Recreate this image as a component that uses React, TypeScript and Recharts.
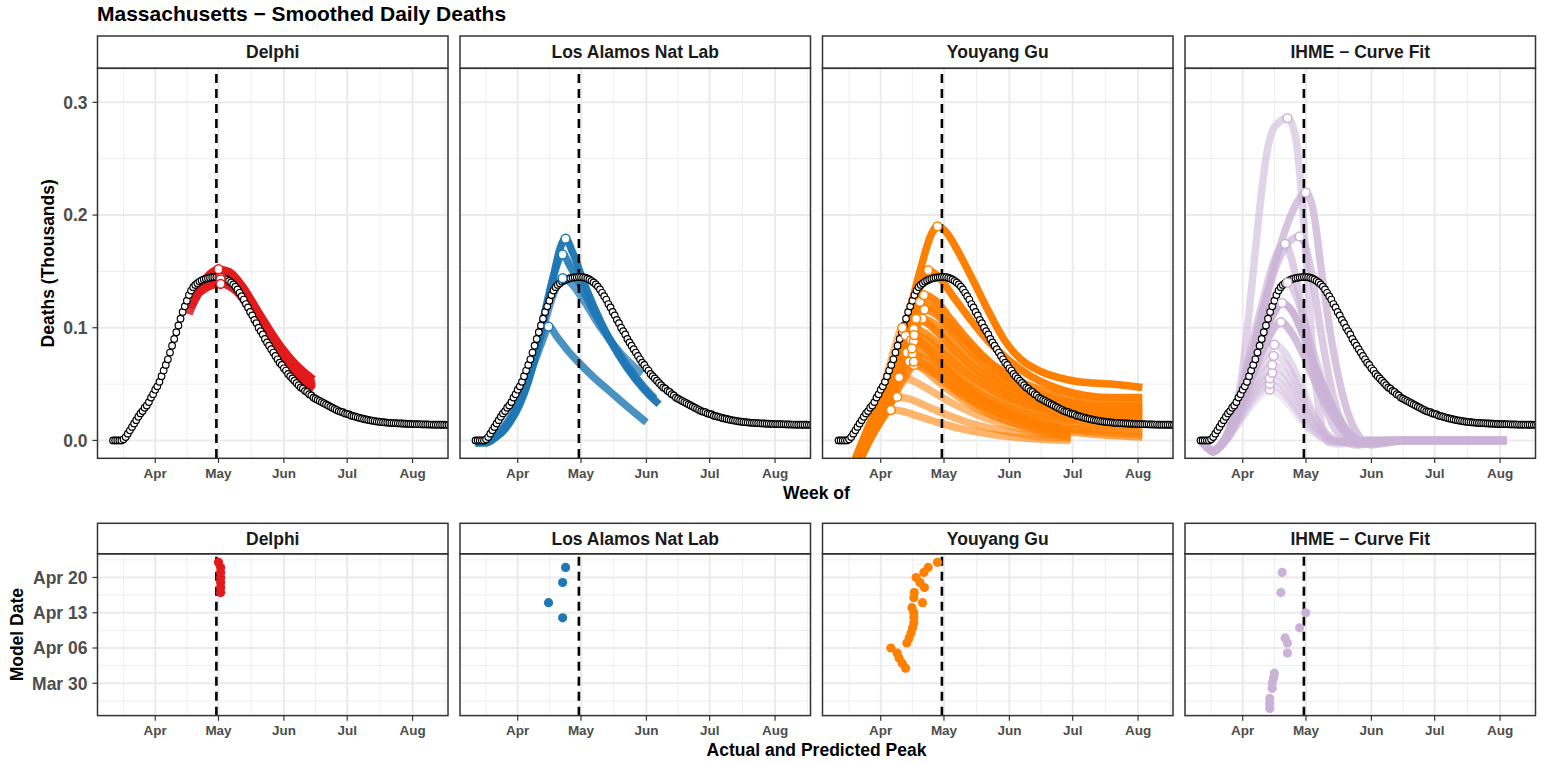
import React from 'react';
import { ComposedChart, Line, Scatter, XAxis, YAxis, CartesianGrid, ReferenceLine } from 'recharts';

// Day numbers are counted from 1 March 2020 (= day 0).
const monthTicks = [31, 61, 92, 122, 153];
const monthLabels = ['Apr', 'May', 'Jun', 'Jul', 'Aug'];
const monthMinorTicks = [16, 46, 76.5, 107, 137.5, 168.5];
const deathTicks = [0, 0.1, 0.2, 0.3];
const deathMinorTicks = [0.05, 0.15, 0.25];
const modelTicks = [29, 36, 43, 50];
const modelLabels = ['Mar 30', 'Apr 06', 'Apr 13', 'Apr 20'];
const modelMinorTicks = [25.5, 32.5, 39.5, 46.5, 53.5];
const actualPeakDay = 60;

// Observed smoothed daily deaths (thousands), one value per day starting 12 March (day 11)
const observedStartDay = 11;
const observedDeaths = [
  0, 0, 0, 0, 0, 0.001, 0.003, 0.006, 0.009, 0.012,
  0.015, 0.018, 0.021, 0.024, 0.026, 0.029, 0.031, 0.034, 0.038, 0.041,
  0.045, 0.048, 0.052, 0.057, 0.062, 0.067, 0.072, 0.078, 0.084, 0.090,
  0.096, 0.102, 0.108, 0.114, 0.119, 0.124, 0.129, 0.133, 0.136, 0.138,
  0.1395, 0.141, 0.142, 0.1428, 0.1435, 0.144, 0.1444, 0.1447, 0.1449, 0.145,
  0.145, 0.1448, 0.1444, 0.1437, 0.1428, 0.1416, 0.1402, 0.1385, 0.1365, 0.134,
  0.131, 0.128, 0.125, 0.121, 0.118, 0.114, 0.111, 0.107, 0.104, 0.100,
  0.097, 0.094, 0.090, 0.087, 0.084, 0.081, 0.078, 0.075, 0.072, 0.069,
  0.067, 0.064, 0.062, 0.059, 0.057, 0.055, 0.053, 0.051, 0.049, 0.047,
  0.046, 0.044, 0.043, 0.041, 0.040, 0.038, 0.037, 0.036, 0.035, 0.034,
  0.033, 0.032, 0.031, 0.030, 0.029, 0.028, 0.027, 0.026, 0.0255, 0.025,
  0.024, 0.0235, 0.023, 0.022, 0.0215, 0.021, 0.0205, 0.020, 0.0195, 0.019,
  0.0186, 0.0182, 0.0178, 0.0175, 0.0172, 0.0169, 0.0166, 0.0164, 0.0162, 0.016,
  0.0158, 0.0156, 0.0155, 0.0154, 0.0153, 0.0152, 0.0151, 0.015, 0.0149, 0.0148,
  0.0147, 0.0146, 0.0145, 0.0145, 0.0144, 0.0144, 0.0143, 0.0143, 0.0142, 0.0142,
  0.0141, 0.0141, 0.014, 0.014, 0.014, 0.0139, 0.0139, 0.0139, 0.0138, 0.0138,
  0.0138, 0.0138,
];

type Curve = { model: number; peak: [number, number]; points: [number, number][] };

const delphiForecasts: Curve[] = [
  { model: 47, peak: [62, 0.146], points: [[47, 0.112], [51, 0.130], [56, 0.142], [62, 0.146], [70, 0.138], [80, 0.110], [90, 0.081], [98, 0.064], [106, 0.051]] },
  { model: 48, peak: [62, 0.145], points: [[48, 0.117], [52, 0.133], [57, 0.142], [62, 0.145], [70, 0.136], [80, 0.108], [90, 0.079], [98, 0.062], [106, 0.049]] },
  { model: 49, peak: [62, 0.144], points: [[49, 0.121], [53, 0.135], [57, 0.141], [62, 0.144], [70, 0.135], [80, 0.106], [90, 0.078], [98, 0.061], [106, 0.048]] },
  { model: 50, peak: [62, 0.1445], points: [[50, 0.125], [54, 0.137], [58, 0.142], [62, 0.1445], [70, 0.136], [80, 0.107], [90, 0.078], [98, 0.060], [106, 0.047]] },
  { model: 51, peak: [62, 0.143], points: [[51, 0.129], [55, 0.138], [58, 0.141], [62, 0.143], [70, 0.134], [80, 0.105], [90, 0.077], [98, 0.059], [106, 0.046]] },
  { model: 52, peak: [62, 0.139], points: [[52, 0.131], [56, 0.136], [62, 0.139], [70, 0.131], [80, 0.103], [90, 0.076], [98, 0.058], [106, 0.045]] },
  { model: 53, peak: [61, 0.152], points: [[53, 0.139], [57, 0.148], [61, 0.152], [66, 0.150], [72, 0.138], [80, 0.114], [90, 0.085], [98, 0.067], [106, 0.054]] },
];

const lanlForecasts: Curve[] = [
  { model: 42, peak: [52.3, 0.144], points: [[11, -0.002], [16, -0.001], [20, 0.003], [24, 0.010], [28, 0.020], [32, 0.035], [36, 0.055], [40, 0.080], [44, 0.106], [48, 0.130], [52.3, 0.144], [56, 0.140], [62, 0.125], [70, 0.101], [80, 0.077], [90, 0.059]] },
  { model: 45, peak: [45.6, 0.101], points: [[11, -0.002], [16, -0.001], [20, 0.004], [24, 0.011], [28, 0.022], [32, 0.037], [36, 0.055], [40, 0.075], [43, 0.090], [45.6, 0.101], [50, 0.091], [55, 0.079], [60, 0.069], [67, 0.056], [75, 0.043], [83, 0.030], [92, 0.016]] },
  { model: 49, peak: [52.3, 0.165], points: [[11, -0.002], [16, -0.002], [20, 0.002], [24, 0.009], [28, 0.019], [32, 0.034], [36, 0.055], [40, 0.083], [44, 0.115], [48, 0.146], [52.3, 0.165], [56, 0.154], [62, 0.133], [68, 0.111], [75, 0.089], [83, 0.066], [91, 0.047], [96, 0.037]] },
  { model: 52, peak: [53.7, 0.179], points: [[11, -0.002], [16, -0.002], [20, 0.002], [24, 0.008], [28, 0.018], [32, 0.032], [36, 0.052], [40, 0.079], [44, 0.112], [48, 0.146], [51, 0.170], [53.7, 0.179], [57, 0.167], [62, 0.142], [67, 0.119], [75, 0.088], [83, 0.064], [91, 0.045], [98, 0.032]] },
];

const youyangGuForecasts: Curve[] = [
  { model: 32, peak: [42.8, 0.093], points: [[19, -0.020], [25, 0.005], [30, 0.027], [35, 0.055], [39, 0.078], [42.8, 0.093], [48, 0.090], [56, 0.077], [66, 0.060], [77, 0.043], [90, 0.028], [104, 0.016], [121, 0.008]] },
  { model: 33, peak: [41.2, 0.100], points: [[19, -0.020], [25, 0.006], [30, 0.030], [34, 0.058], [38, 0.085], [41.2, 0.100], [45, 0.097], [52, 0.084], [61, 0.066], [72, 0.047], [85, 0.030], [100, 0.017], [110, 0.011], [121, 0.008]] },
  { model: 34, peak: [39.7, 0.056], points: [[19, -0.024], [25, 0.000], [30, 0.020], [35, 0.041], [38, 0.051], [39.7, 0.056], [45, 0.054], [53, 0.046], [63, 0.035], [75, 0.024], [90, 0.014], [105, 0.007], [121, 0.003]] },
  { model: 35, peak: [38.8, 0.0386], points: [[19, -0.022], [25, -0.001], [30, 0.016], [35, 0.031], [38.8, 0.0386], [44, 0.037], [52, 0.031], [62, 0.023], [74, 0.015], [88, 0.009], [104, 0.004], [121, 0.002]] },
  { model: 36, peak: [35.8, 0.027], points: [[19, -0.022], [25, -0.002], [30, 0.014], [33, 0.022], [35.8, 0.027], [41, 0.026], [48, 0.022], [58, 0.016], [70, 0.010], [85, 0.005], [100, 0.002], [121, 0.000]] },
  { model: 37, peak: [43.4, 0.078], points: [[19, -0.025], [26, 0.004], [33, 0.034], [38, 0.060], [41, 0.073], [43.4, 0.078], [48, 0.074], [56, 0.061], [65, 0.046], [75, 0.033], [87, 0.021], [100, 0.012], [110, 0.007], [121, 0.004]] },
  { model: 38, peak: [44.5, 0.070], points: [[19, -0.026], [26, 0.002], [33, 0.028], [38, 0.052], [41, 0.063], [44.5, 0.070], [49, 0.066], [57, 0.054], [66, 0.041], [76, 0.029], [88, 0.019], [100, 0.012], [110, 0.008], [121, 0.006]] },
  { model: 39, peak: [45.4, 0.089], points: [[19, -0.025], [26, 0.004], [33, 0.032], [39, 0.070], [42, 0.082], [45.4, 0.089], [50, 0.085], [58, 0.071], [67, 0.055], [77, 0.040], [88, 0.028], [100, 0.018], [115, 0.011], [135, 0.007], [155, 0.005]] },
  { model: 40, peak: [46.1, 0.077], points: [[19, -0.026], [26, 0.002], [33, 0.026], [40, 0.056], [43, 0.069], [46.1, 0.077], [51, 0.073], [59, 0.061], [68, 0.046], [78, 0.033], [90, 0.022], [103, 0.013], [118, 0.008], [135, 0.005], [155, 0.003]] },
  { model: 41, peak: [46.7, 0.067], points: [[19, -0.027], [26, 0.001], [33, 0.023], [40, 0.048], [44, 0.060], [46.7, 0.067], [52, 0.064], [60, 0.054], [70, 0.041], [80, 0.030], [92, 0.021], [105, 0.015], [120, 0.011], [138, 0.009], [155, 0.008]] },
  { model: 42, peak: [46.7, 0.070], points: [[19, -0.027], [26, 0.001], [33, 0.024], [40, 0.050], [44, 0.063], [46.7, 0.070], [52, 0.067], [60, 0.058], [70, 0.045], [80, 0.035], [92, 0.026], [105, 0.019], [120, 0.015], [138, 0.013], [155, 0.012]] },
  { model: 43, peak: [46.7, 0.088], points: [[19, -0.026], [26, 0.003], [33, 0.028], [40, 0.060], [44, 0.078], [46.7, 0.088], [52, 0.084], [60, 0.073], [69, 0.059], [79, 0.046], [90, 0.035], [102, 0.027], [118, 0.021], [135, 0.019], [155, 0.018]] },
  { model: 44, peak: [45.8, 0.0816], points: [[19, -0.026], [26, 0.002], [33, 0.027], [40, 0.058], [43, 0.073], [45.8, 0.0816], [51, 0.078], [58, 0.068], [67, 0.054], [77, 0.042], [88, 0.032], [100, 0.024], [115, 0.019], [135, 0.016], [155, 0.015]] },
  { model: 45, peak: [50.8, 0.108], points: [[19, -0.025], [26, 0.004], [33, 0.030], [40, 0.060], [46, 0.090], [50.8, 0.108], [56, 0.104], [63, 0.092], [72, 0.076], [82, 0.061], [92, 0.049], [104, 0.039], [118, 0.032], [135, 0.029], [155, 0.028]] },
  { model: 46, peak: [46.7, 0.099], points: [[19, -0.024], [26, 0.005], [33, 0.032], [40, 0.066], [44, 0.088], [46.7, 0.099], [52, 0.095], [60, 0.083], [70, 0.067], [80, 0.053], [92, 0.040], [105, 0.031], [120, 0.025], [138, 0.023], [155, 0.022]] },
  { model: 47, peak: [46.9, 0.0935], points: [[19, -0.025], [26, 0.004], [33, 0.030], [40, 0.062], [44, 0.083], [46.9, 0.0935], [52, 0.090], [60, 0.078], [70, 0.062], [80, 0.049], [92, 0.037], [105, 0.029], [120, 0.023], [138, 0.021], [155, 0.020]] },
  { model: 48, peak: [51.7, 0.116], points: [[19, -0.024], [26, 0.006], [33, 0.032], [40, 0.062], [46, 0.094], [51.7, 0.116], [57, 0.112], [64, 0.098], [72, 0.082], [82, 0.064], [92, 0.050], [104, 0.038], [118, 0.030], [135, 0.026], [155, 0.024]] },
  { model: 49, peak: [49.6, 0.123], points: [[19, -0.022], [26, 0.008], [33, 0.036], [40, 0.070], [45, 0.100], [49.6, 0.123], [55, 0.119], [62, 0.105], [70, 0.090], [80, 0.073], [90, 0.060], [100, 0.050], [112, 0.042], [125, 0.037], [140, 0.035], [155, 0.034]] },
  { model: 50, peak: [47.8, 0.108], points: [[19, -0.024], [26, 0.006], [33, 0.034], [40, 0.068], [44, 0.094], [47.8, 0.108], [53, 0.104], [60, 0.092], [68, 0.077], [77, 0.062], [87, 0.049], [98, 0.039], [110, 0.032], [125, 0.028], [140, 0.026], [155, 0.027]] },
  { model: 51, peak: [51.5, 0.129], points: [[19, -0.022], [26, 0.008], [33, 0.036], [40, 0.070], [46, 0.105], [51.5, 0.129], [57, 0.124], [64, 0.108], [72, 0.090], [80, 0.074], [90, 0.058], [100, 0.046], [110, 0.038], [122, 0.033], [138, 0.030], [155, 0.030]] },
  { model: 52, peak: [53.5, 0.151], points: [[19, -0.020], [26, 0.012], [33, 0.040], [40, 0.076], [45, 0.108], [50, 0.138], [53.5, 0.151], [58, 0.146], [66, 0.126], [74, 0.106], [82, 0.088], [90, 0.074], [98, 0.062], [106, 0.053], [115, 0.046], [128, 0.040], [142, 0.038], [155, 0.038]] },
  { model: 53, peak: [57.9, 0.190], points: [[19, -0.016], [26, 0.016], [33, 0.044], [40, 0.082], [45, 0.117], [50, 0.153], [55, 0.183], [57.9, 0.190], [62, 0.185], [67, 0.170], [74, 0.145], [82, 0.115], [90, 0.088], [98, 0.071], [106, 0.062], [115, 0.056], [125, 0.052], [140, 0.050], [155, 0.047]] },
];

const ihmeForecasts: Curve[] = [
  { model: 24, peak: [43.8, 0.045], points: [[11, 0], [14, -0.006], [17, -0.009], [20, -0.006], [24, 0.002], [29, 0.015], [34, 0.028], [39, 0.039], [43.8, 0.045], [49, 0.040], [55, 0.027], [61, 0.013], [67, 0.004], [73, -0.001], [80, -0.001], [90, 0], [156, 0]] },
  { model: 25, peak: [43.8, 0.050], points: [[11, 0], [14, -0.006], [17, -0.009], [20, -0.006], [24, 0.002], [29, 0.016], [34, 0.031], [39, 0.043], [43.8, 0.050], [49, 0.045], [55, 0.031], [61, 0.015], [67, 0.005], [73, -0.001], [80, -0.001], [90, 0], [156, 0]] },
  { model: 26, peak: [43.8, 0.055], points: [[11, 0], [14, -0.006], [17, -0.009], [20, -0.006], [24, 0.003], [29, 0.018], [34, 0.034], [39, 0.047], [43.8, 0.055], [49, 0.050], [55, 0.035], [61, 0.018], [67, 0.006], [73, 0], [80, -0.001], [90, 0], [156, 0]] },
  { model: 28, peak: [45, 0.060], points: [[11, 0], [14, -0.006], [17, -0.009], [20, -0.006], [24, 0.003], [29, 0.019], [34, 0.036], [40, 0.052], [45, 0.060], [50, 0.055], [56, 0.039], [62, 0.020], [68, 0.007], [74, 0], [81, -0.001], [90, 0], [156, 0]] },
  { model: 29, peak: [45, 0.067], points: [[11, 0], [14, -0.006], [17, -0.01], [20, -0.006], [24, 0.003], [29, 0.021], [34, 0.040], [40, 0.058], [45, 0.067], [50, 0.062], [56, 0.044], [62, 0.023], [68, 0.008], [74, 0], [81, -0.002], [90, 0], [156, 0]] },
  { model: 30, peak: [45.6, 0.075], points: [[11, 0], [14, -0.006], [17, -0.01], [20, -0.006], [24, 0.004], [29, 0.023], [34, 0.044], [40, 0.064], [45.6, 0.075], [51, 0.069], [57, 0.049], [63, 0.026], [69, 0.009], [75, 0], [82, -0.002], [90, 0], [156, 0]] },
  { model: 31, peak: [46, 0.085], points: [[11, 0], [14, -0.006], [17, -0.01], [20, -0.006], [24, 0.004], [29, 0.025], [34, 0.049], [40, 0.072], [46, 0.085], [51, 0.078], [57, 0.056], [63, 0.030], [69, 0.010], [75, 0], [82, -0.002], [90, 0], [156, 0]] },
  { model: 35, peak: [52.2, 0.286], points: [[11, 0], [14, -0.006], [17, -0.01], [20, -0.006], [23, 0.004], [26, 0.020], [30, 0.050], [33, 0.095], [36, 0.150], [39, 0.205], [42, 0.250], [46, 0.278], [52.2, 0.286], [56, 0.270], [58, 0.238], [60, 0.192], [62, 0.137], [64.5, 0.070], [67.5, 0.024], [72, -0.002], [78, -0.003], [85, 0], [156, 0]] },
  { model: 37, peak: [52.2, 0.140], points: [[11, 0], [14, -0.006], [17, -0.01], [20, -0.006], [24, 0.005], [28, 0.025], [34, 0.062], [40, 0.098], [46, 0.127], [52.2, 0.140], [57, 0.125], [63, 0.088], [70, 0.045], [77, 0.013], [84, -0.002], [92, -0.002], [100, 0], [156, 0]] },
  { model: 38, peak: [51.1, 0.1745], points: [[11, 0], [14, -0.006], [17, -0.01], [20, -0.006], [24, 0.006], [28, 0.030], [34, 0.075], [40, 0.120], [46, 0.160], [51.1, 0.1745], [55, 0.155], [61, 0.097], [66, 0.055], [70, 0.030], [77, 0.004], [84, -0.004], [92, -0.002], [100, 0], [156, 0]] },
  { model: 40, peak: [58, 0.181], points: [[11, 0], [14, -0.006], [17, -0.009], [20, -0.005], [24, 0.006], [28, 0.027], [34, 0.068], [40, 0.112], [46, 0.150], [52, 0.174], [58, 0.181], [63, 0.155], [68, 0.097], [74, 0.038], [80, 0.008], [86, -0.004], [94, -0.002], [102, 0], [156, 0]] },
  { model: 43, peak: [60.9, 0.220], points: [[11, 0], [14, -0.006], [17, -0.009], [20, -0.005], [24, 0.006], [28, 0.025], [34, 0.065], [40, 0.110], [46, 0.155], [52, 0.191], [57, 0.212], [60.9, 0.220], [65, 0.198], [68, 0.155], [72.5, 0.096], [79, 0.036], [86, 0.004], [92, -0.004], [100, -0.002], [108, 0], [156, 0]] },
  { model: 47, peak: [49.1, 0.105], points: [[11, 0], [14, -0.006], [17, -0.01], [20, -0.006], [24, 0.004], [28, 0.020], [34, 0.050], [40, 0.078], [45, 0.097], [49.1, 0.105], [54, 0.096], [60, 0.075], [67, 0.045], [75, 0.018], [83, 0.002], [90, -0.003], [98, -0.001], [106, 0], [156, 0]] },
  { model: 51, peak: [49.7, 0.122], points: [[11, 0], [14, -0.006], [17, -0.01], [20, -0.006], [24, 0.004], [28, 0.022], [34, 0.055], [40, 0.088], [45, 0.110], [49.7, 0.122], [55, 0.113], [60, 0.092], [67, 0.058], [75, 0.025], [83, 0.004], [90, -0.002], [98, -0.002], [106, 0], [156, 0]] },
];

const panels = [
  { name: 'Delphi', color: '#e31a1c', curves: delphiForecasts },
  { name: 'Los Alamos Nat Lab', color: '#1f78b4', curves: lanlForecasts },
  { name: 'Youyang Gu', color: '#ff7f00', curves: youyangGuForecasts },
  { name: 'IHME \u2212 Curve Fit', color: '#cab2d6', curves: ihmeForecasts },
];

// ---------- layout ----------
const FONT = '"Liberation Sans", Arial, Helvetica, sans-serif';
const PLOT_X0 = 97.5;
const STEP = 362.5;
const PLOT_W = 350.5;
const YAXIS_W = 97.5;
const TOP = { strip: 36, plot: 68.3, h: 390 };
const BOT = { strip: 523.3, plot: 553.8, h: 161.8 };
const XAXIS_H = 32;
const X_DOMAIN: [number, number] = [3.64, 169.8];
const Y_TOP_DOMAIN: [number, number] = [-0.0156, 0.3305];
const Y_BOT_DOMAIN: [number, number] = [22.55, 54.66];
const TICK_COLOR = '#4d4d4d';

const alphaFor = (model: number) => 0.3 + (0.7 * (model - 24)) / 29;

const observedData = observedDeaths.map((v, i) => ({ x: observedStartDay + i, y: v }));

const ObsDot = (p: any) =>
  p.cx == null ? null : <circle cx={p.cx} cy={p.cy} r={3.3} fill="#ffffff" stroke="#000000" strokeWidth={1.2} />;

const monthFmt = (v: number) => monthLabels[monthTicks.indexOf(v)] ?? '';
const modelFmt = (v: number) => modelLabels[modelTicks.indexOf(v)] ?? '';

const xTick = { fontSize: 13.5, fontWeight: 700, fill: TICK_COLOR, fontFamily: FONT };
const yTick = { fontSize: 17.5, fontWeight: 700, fill: TICK_COLOR, fontFamily: FONT };

function XAx() {
  return (
    <XAxis
      type="number"
      dataKey="x"
      domain={X_DOMAIN}
      allowDataOverflow
      ticks={monthTicks}
      interval={0}
      tickFormatter={monthFmt}
      axisLine={false}
      tickLine={{ stroke: '#333333', strokeWidth: 1.2 }}
      tickSize={5}
      tickMargin={5}
      height={XAXIS_H}
      tick={xTick}
    />
  );
}

function PeakLine() {
  return <ReferenceLine x={actualPeakDay} stroke="#000000" strokeWidth={2.6} strokeDasharray="9 6" />;
}

function TopPanel({ idx }: { idx: number }) {
  const panel = panels[idx];
  const showY = idx === 0;
  const left = PLOT_X0 + idx * STEP - (showY ? YAXIS_W : 0);
  const width = PLOT_W + (showY ? YAXIS_W : 0);
  const curves = [...panel.curves].sort((a, b) => a.model - b.model);
  const peaks = curves.map((c) => ({ x: c.peak[0], y: c.peak[1] }));
  const PeakDot = (p: any) =>
    p.cx == null ? null : <circle cx={p.cx} cy={p.cy} r={4.4} fill="#ffffff" stroke={panel.color} strokeWidth={1.5} />;
  return (
    <div style={{ position: 'absolute', left, top: TOP.plot }}>
      <ComposedChart width={width} height={TOP.h + XAXIS_H} margin={{ top: 0, right: 0, bottom: 0, left: 0 }}>
        <CartesianGrid horizontalValues={deathMinorTicks} verticalValues={monthMinorTicks} stroke="#eeeeee" strokeWidth={1} />
        <CartesianGrid horizontalValues={deathTicks} verticalValues={monthTicks} stroke="#ebebeb" strokeWidth={2} />
        {XAx()}
        <YAxis
          type="number"
          dataKey="y"
          domain={Y_TOP_DOMAIN}
          allowDataOverflow
          ticks={deathTicks}
          interval={0}
          tickFormatter={(v: number) => v.toFixed(1)}
          hide={!showY}
          width={YAXIS_W}
          axisLine={false}
          tickLine={{ stroke: '#333333', strokeWidth: 1.2 }}
          tickSize={5}
          tickMargin={5}
          tick={yTick}
        />
        {curves.map((c, i) => (
          <Line
            key={'c' + i}
            data={c.points.map(([x, y]) => ({ x, y }))}
            dataKey="y"
            type="monotone"
            stroke={panel.color}
            strokeOpacity={alphaFor(c.model)}
            strokeWidth={7.5}
            strokeLinejoin="round"
            dot={false}
            activeDot={false}
            isAnimationActive={false}
          />
        ))}
        <Scatter data={observedData} dataKey="y" shape={ObsDot} isAnimationActive={false} />
        <Scatter data={peaks} dataKey="y" shape={PeakDot} isAnimationActive={false} />
        {PeakLine()}
      </ComposedChart>
    </div>
  );
}

function BottomPanel({ idx }: { idx: number }) {
  const panel = panels[idx];
  const showY = idx === 0;
  const left = PLOT_X0 + idx * STEP - (showY ? YAXIS_W : 0);
  const width = PLOT_W + (showY ? YAXIS_W : 0);
  const pts = panel.curves.map((c) => ({ x: c.peak[0], y: c.model }));
  const Dot = (p: any) => (p.cx == null ? null : <circle cx={p.cx} cy={p.cy} r={4.6} fill={panel.color} />);
  return (
    <div style={{ position: 'absolute', left, top: BOT.plot }}>
      <ComposedChart width={width} height={BOT.h + XAXIS_H} margin={{ top: 0, right: 0, bottom: 0, left: 0 }}>
        <CartesianGrid horizontalValues={modelMinorTicks} verticalValues={monthMinorTicks} stroke="#eeeeee" strokeWidth={1} />
        <CartesianGrid horizontalValues={modelTicks} verticalValues={monthTicks} stroke="#ebebeb" strokeWidth={2} />
        {XAx()}
        <YAxis
          type="number"
          dataKey="y"
          domain={Y_BOT_DOMAIN}
          allowDataOverflow
          ticks={modelTicks}
          interval={0}
          tickFormatter={modelFmt}
          hide={!showY}
          width={YAXIS_W}
          axisLine={false}
          tickLine={{ stroke: '#333333', strokeWidth: 1.2 }}
          tickSize={5}
          tickMargin={5}
          tick={yTick}
        />
        <Scatter data={pts} dataKey="y" shape={Dot} isAnimationActive={false} />
        {PeakLine()}
      </ComposedChart>
    </div>
  );
}

function Overlay() {
  const cols = [0, 1, 2, 3];
  return (
    <svg
      width={1544}
      height={763}
      style={{ position: 'absolute', left: 0, top: 0, pointerEvents: 'none', fontFamily: FONT }}
    >
      <text x={97} y={20.7} fontSize={21} fontWeight={700} fill="#000000">
        Massachusetts {'\u2212'} Smoothed Daily Deaths
      </text>
      {cols.map((i) => {
        const x = PLOT_X0 + i * STEP;
        return (
          <g key={i}>
            <rect x={x} y={TOP.strip} width={PLOT_W} height={TOP.plot - TOP.strip} fill="#ffffff" stroke="#333333" strokeWidth={1.5} />
            <text x={x + PLOT_W / 2} y={57.8} textAnchor="middle" fontSize={17.5} fontWeight={700} fill="#1a1a1a">
              {panels[i].name}
            </text>
            <rect x={x} y={TOP.plot} width={PLOT_W} height={TOP.h} fill="none" stroke="#333333" strokeWidth={1.5} />
            <rect x={x} y={BOT.strip} width={PLOT_W} height={BOT.plot - BOT.strip} fill="#ffffff" stroke="#333333" strokeWidth={1.5} />
            <text x={x + PLOT_W / 2} y={544.5} textAnchor="middle" fontSize={17.5} fontWeight={700} fill="#1a1a1a">
              {panels[i].name}
            </text>
            <rect x={x} y={BOT.plot} width={PLOT_W} height={BOT.h} fill="none" stroke="#333333" strokeWidth={1.5} />
          </g>
        );
      })}
      <text x={816.5} y={498.7} textAnchor="middle" fontSize={17.5} fontWeight={700} fill="#000000">
        Week of
      </text>
      <text x={816.5} y={756} textAnchor="middle" fontSize={17.5} fontWeight={700} fill="#000000">
        Actual and Predicted Peak
      </text>
      <text
        x={54.5}
        y={263.3}
        textAnchor="middle"
        fontSize={17.5}
        fontWeight={700}
        fill="#000000"
        transform="rotate(-90 54.5 263.3)"
      >
        Deaths (Thousands)
      </text>
      <text
        x={23.5}
        y={634.7}
        textAnchor="middle"
        fontSize={17.5}
        fontWeight={700}
        fill="#000000"
        transform="rotate(-90 23.5 634.7)"
      >
        Model Date
      </text>
    </svg>
  );
}

export default function App() {
  return (
    <div
      style={{
        position: 'absolute',
        left: 0,
        top: 0,
        width: 1544,
        height: 763,
        background: '#ffffff',
        overflow: 'hidden',
        fontFamily: FONT,
      }}
    >
      {[0, 1, 2, 3].map((i) => (
        <TopPanel key={'t' + i} idx={i} />
      ))}
      {[0, 1, 2, 3].map((i) => (
        <BottomPanel key={'b' + i} idx={i} />
      ))}
      <Overlay />
    </div>
  );
}
